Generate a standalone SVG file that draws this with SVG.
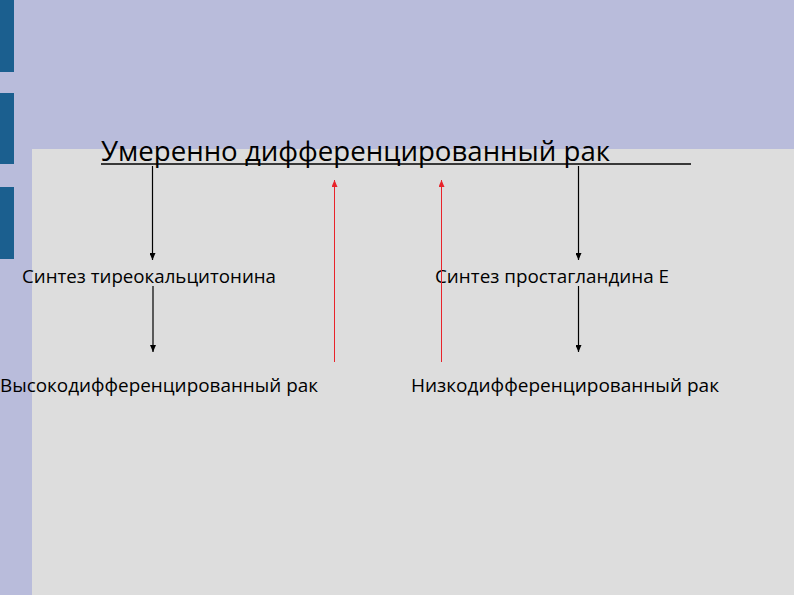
<svg xmlns="http://www.w3.org/2000/svg" width="794" height="595" viewBox="0 0 794 595">
<style>
.t{font-family:"Open Sans","DejaVu Sans",sans-serif;fill:#000}
.l{font-size:19px}
.blk{stroke:#000;stroke-width:1.2;fill:none}
.red{stroke:#e8232a;stroke-width:1;fill:none}
</style>
<defs>
<marker id="ab" markerWidth="7" markerHeight="6" refX="7" refY="3" orient="auto" markerUnits="userSpaceOnUse" viewBox="0 0 7 6">
<path d="M0,0 L7,3 L0,6 Z" fill="#000"/>
</marker>
<marker id="ar" markerWidth="7" markerHeight="6" refX="7" refY="3" orient="auto" markerUnits="userSpaceOnUse" viewBox="0 0 7 6">
<path d="M0,0 L7,3 L0,6 Z" fill="#e8232a"/>
</marker>
</defs>
<rect width="794" height="595" fill="#b9bcdb"/>
<rect x="32" y="149" width="762" height="446" fill="#dddddd"/>
<rect x="0" y="0" width="14" height="72" fill="#1b5f8f"/>
<rect x="0" y="93" width="14" height="71" fill="#1b5f8f"/>
<rect x="0" y="187" width="14" height="72" fill="#1b5f8f"/>
<g id="title">
<text class="t" x="101" y="161" font-size="26.5" textLength="509" lengthAdjust="spacingAndGlyphs">Умеренно дифференцированный рак</text>
<line x1="101" y1="164" x2="691" y2="164" stroke="#000" stroke-width="1.3"/>
</g>
<g id="n1"><text class="t l" x="22" y="283" textLength="254" lengthAdjust="spacingAndGlyphs">Синтез тиреокальцитонина</text></g>
<g id="n2"><text class="t l" x="435" y="283" textLength="234" lengthAdjust="spacingAndGlyphs">Синтез простагландина Е</text></g>
<g id="n3"><text class="t l" x="0" y="392" textLength="318" lengthAdjust="spacingAndGlyphs">Высокодифференцированный рак</text></g>
<g id="n4"><text class="t l" x="411" y="392" textLength="308" lengthAdjust="spacingAndGlyphs">Низкодифференцированный рак</text></g>
<g id="connectors">
<line class="blk" x1="152.5" y1="166" x2="152.5" y2="260" marker-end="url(#ab)"/>
<line class="blk" x1="153" y1="286" x2="153" y2="352" marker-end="url(#ab)"/>
<line class="blk" x1="578.5" y1="166" x2="578.5" y2="260" marker-end="url(#ab)"/>
<line class="blk" x1="578.5" y1="286" x2="578.5" y2="352" marker-end="url(#ab)"/>
<line class="red" x1="334.5" y1="362" x2="334.5" y2="180" marker-end="url(#ar)"/>
<line class="red" x1="441.5" y1="362" x2="441.5" y2="180" marker-end="url(#ar)"/>
</g>
</svg>
